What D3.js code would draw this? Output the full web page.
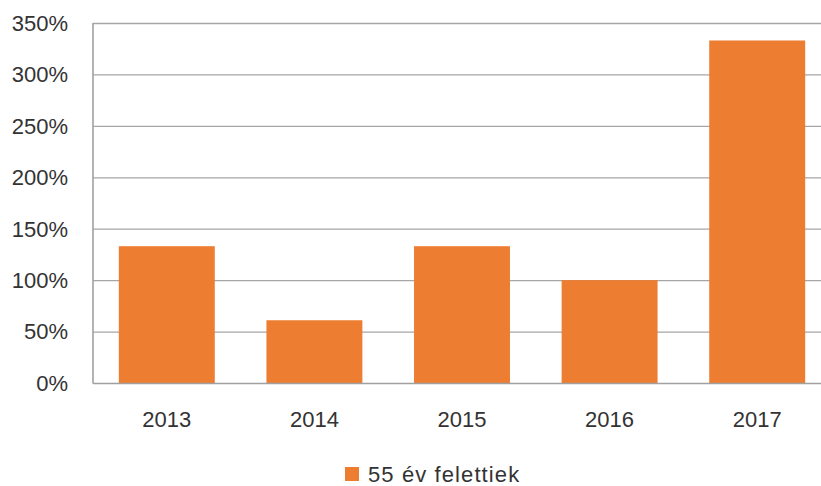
<!DOCTYPE html>
<html>
<head>
<meta charset="utf-8">
<script src="https://d3js.org/d3.v7.min.js"></script>
<style>
body { margin: 0; background: #fff; }
text { font-family: "Liberation Sans", Arial, sans-serif; fill: #333; }
</style>
</head>
<body>
<div id="chart"></div>
<script>
var years = ["2013", "2014", "2015", "2016", "2017"];
var values = [133, 61, 133, 100, 333];
var yTicks = [0, 50, 100, 150, 200, 250, 300, 350];
var seriesName = "55 év felettiek";

var W = 821, H = 486;
var plotLeft = 93, plotTop = 23, plotBottom = 383, plotRight = 831;

var svg = d3.select("#chart").append("svg")
	.attr("width", W)
	.attr("height", H);

var x = d3.scaleBand().domain(years).range([plotLeft, plotRight]).paddingInner(0.35).paddingOuter(0.175);
var y = d3.scaleLinear().domain([0, 350]).range([plotBottom, plotTop]);

// gridlines
svg.append("g").selectAll("line").data(yTicks.slice(1)).enter().append("line")
	.attr("x1", plotLeft).attr("x2", W)
	.attr("y1", function(d){ return y(d) + 0.5; })
	.attr("y2", function(d){ return y(d) + 0.5; })
	.attr("stroke", "#a6a6a6").attr("stroke-width", 1.3);

// bars
svg.append("g").selectAll("rect").data(values).enter().append("rect")
	.attr("x", function(d, i){ return x(years[i]); })
	.attr("y", function(d){ return y(d); })
	.attr("width", x.bandwidth())
	.attr("height", function(d){ return plotBottom - y(d); })
	.attr("fill", "#ed7d31");

// axis lines
svg.append("line").attr("x1", plotLeft).attr("x2", plotLeft).attr("y1", plotTop).attr("y2", plotBottom + 0.5)
	.attr("stroke", "#a0a0a0").attr("stroke-width", 1.6);
svg.append("line").attr("x1", plotLeft).attr("x2", W).attr("y1", plotBottom + 0.5).attr("y2", plotBottom + 0.5)
	.attr("stroke", "#a0a0a0").attr("stroke-width", 1.6);

// y labels
svg.append("g").selectAll("text").data(yTicks).enter().append("text")
	.attr("x", 68)
	.attr("y", function(d){ return y(d); })
	.attr("dy", "0.36em")
	.attr("text-anchor", "end")
	.style("font-size", "22px")
	.text(function(d){ return d + "%"; });

// x labels
svg.append("g").selectAll("text").data(years).enter().append("text")
	.attr("x", function(d){ return x(d) + x.bandwidth() / 2; })
	.attr("y", 419)
	.attr("dy", "0.36em")
	.attr("text-anchor", "middle")
	.style("font-size", "22px")
	.text(function(d){ return d; });

// legend
svg.append("rect").attr("x", 345).attr("y", 467).attr("width", 14).attr("height", 14).attr("fill", "#ed7d31");
svg.append("text").attr("x", 368).attr("y", 474).attr("dy", "0.36em")
	.style("font-size", "22px")
	.style("letter-spacing", "1.1px")
	.text(seriesName);
</script>
</body>
</html>
